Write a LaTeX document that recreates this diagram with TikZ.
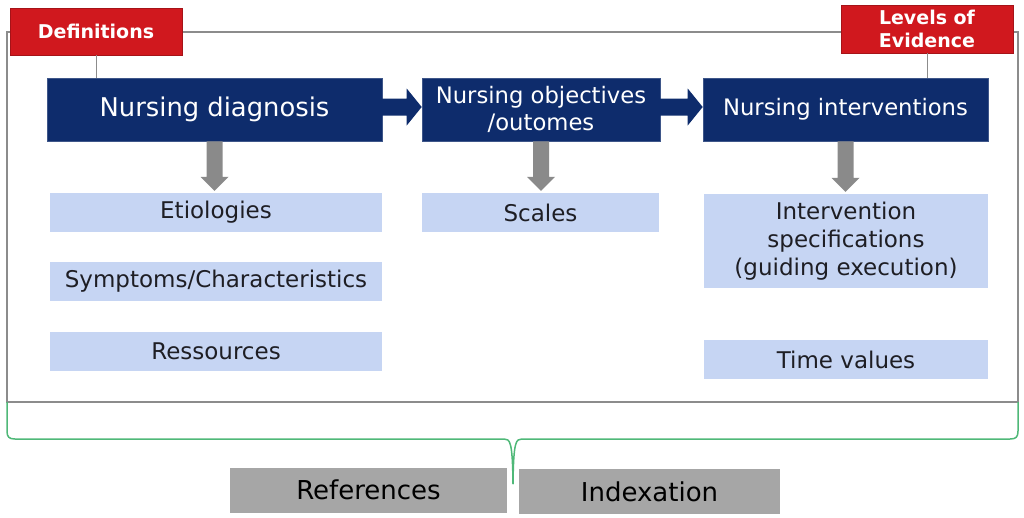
\documentclass[tikz,border=0pt]{standalone}
\usepackage{fontspec}
\setmainfont{DejaVu Sans}
\usetikzlibrary{calc}
\definecolor{navy}{HTML}{0E2C6C}
\definecolor{redbox}{HTML}{D0181E}
\definecolor{lightblue}{HTML}{C6D5F3}
\definecolor{arrowgray}{HTML}{8A8A8A}
\definecolor{bottomgray}{HTML}{A6A6A6}
\definecolor{bracegreen}{HTML}{4FB878}
\definecolor{framegray}{HTML}{8C8C8C}
\definecolor{darktext}{HTML}{1E1E24}
\tikzset{
  titlebox/.style={fill=navy, draw=navy!80!white, line width=0.6pt, text=white, align=center, inner sep=0pt},
  subbox/.style={fill=lightblue, text=darktext, align=center, inner sep=0pt, font=\fontsize{23}{28}\selectfont},
  redlabel/.style={fill=redbox, draw=redbox!80!black, line width=0.6pt, text=white, align=center, inner sep=0pt, font=\bfseries\fontsize{19}{23}\selectfont},
  greybox/.style={fill=bottomgray, text=black, align=center, inner sep=0pt, font=\fontsize{26}{30}\selectfont},
  framestyle/.style={draw=framegray, line width=1.2pt},
  linkline/.style={draw=framegray, line width=0.9pt},
  bracestyle/.style={draw=bracegreen, line width=1.5pt}
}
\newcommand\grayarrow[2]{%
  \fill[arrowgray] ($(#1.south)+(-8,0)$) -- ($(#1.south |- #2.north)+(-8,-16)$) -- ($(#1.south |- #2.north)+(-14,-16)$)
   -- ($(#1.south |- #2.north)+(0,-2)$) -- ($(#1.south |- #2.north)+(14,-16)$) -- ($(#1.south |- #2.north)+(8,-16)$)
   -- ($(#1.south)+(8,0)$) -- cycle;}
\newcommand\navyarrow[2]{%
  \fill[navy] ($(#1.east)+(-1,-11)$) -- ($(#2.west)+(-15,-11)$) -- ($(#2.west)+(-15,-21)$) -- ($(#2.west)+(0,-2.5)$)
   -- ($(#2.west)+(-15,16)$) -- ($(#2.west)+(-15,6)$) -- ($(#1.east)+(-1,6)$) -- cycle;}
\begin{document}
\begin{tikzpicture}[x=1pt,y=-1pt]
\useasboundingbox (0,0) rectangle (1024,517);
% outer frame
\draw[framestyle] (7,32) rectangle (1018,402);
% red labels
\node[redlabel, minimum width=172pt, minimum height=47pt] (def) at (96,31.5) {Definitions};
\node[redlabel, minimum width=172pt, minimum height=48pt] (loe) at (927,29) {Levels of\\Evidence};
% title boxes
\node[titlebox, minimum width=335pt, minimum height=63pt, font=\fontsize{25.8}{30}\selectfont] (diag) at (214.5,109.5) {Nursing diagnosis};
\node[titlebox, minimum width=238pt, minimum height=63pt, font=\fontsize{22.7}{27}\selectfont] (obj) at (541,109.5) {Nursing objectives\\/outomes};
\node[titlebox, minimum width=285pt, minimum height=63pt, font=\fontsize{22.7}{27}\selectfont] (intv) at (845.5,109.5) {Nursing interventions};
% connectors from red labels
\draw[linkline] (def.south) -- (def.south |- diag.north);
\draw[linkline] (loe.south) -- (loe.south |- intv.north);
% navy arrows
\navyarrow{diag}{obj}
\navyarrow{obj}{intv}
% sub boxes
\node[subbox, minimum width=332pt, minimum height=39pt] (etio) at (216,212.5) {Etiologies};
\node[subbox, minimum width=332pt, minimum height=39pt] (symp) at (216,281.5) {Symptoms/Characteristics};
\node[subbox, minimum width=332pt, minimum height=39pt] (res) at (216,351.5) {Ressources};
\node[subbox, minimum width=237pt, minimum height=39pt] (scal) at (540.5,212.5) {Scales};
\node[subbox, minimum width=284pt, minimum height=94pt] (spec) at (846,241) {Intervention\\specifications\\(guiding execution)};
\node[subbox, minimum width=284pt, minimum height=39pt] (time) at (846,359.5) {Time values};
% gray arrows
\grayarrow{diag}{etio}
\grayarrow{obj}{scal}
\grayarrow{intv}{spec}
% bottom boxes
\node[greybox, minimum width=277pt, minimum height=45pt] (ref) at (368.5,490) {References};
\node[greybox, minimum width=261pt, minimum height=45pt] (idx) at (649.5,491.5) {Indexation};
% brace
\coordinate (bl) at (7,402);
\coordinate (br) at (1018,402);
\coordinate (tip) at (513,484);
\draw[bracestyle] (bl) -- (7,431) .. controls (7,437) and (9,439) .. (15,439) -- (504,439)
  .. controls (510,439) and (512.5,441) .. (tip);
\draw[bracestyle] (br) -- (1018,431) .. controls (1018,437) and (1016,439) .. (1010,439) -- (522,439)
  .. controls (516,439) and (513.5,441) .. (tip);
\end{tikzpicture}
\end{document}
